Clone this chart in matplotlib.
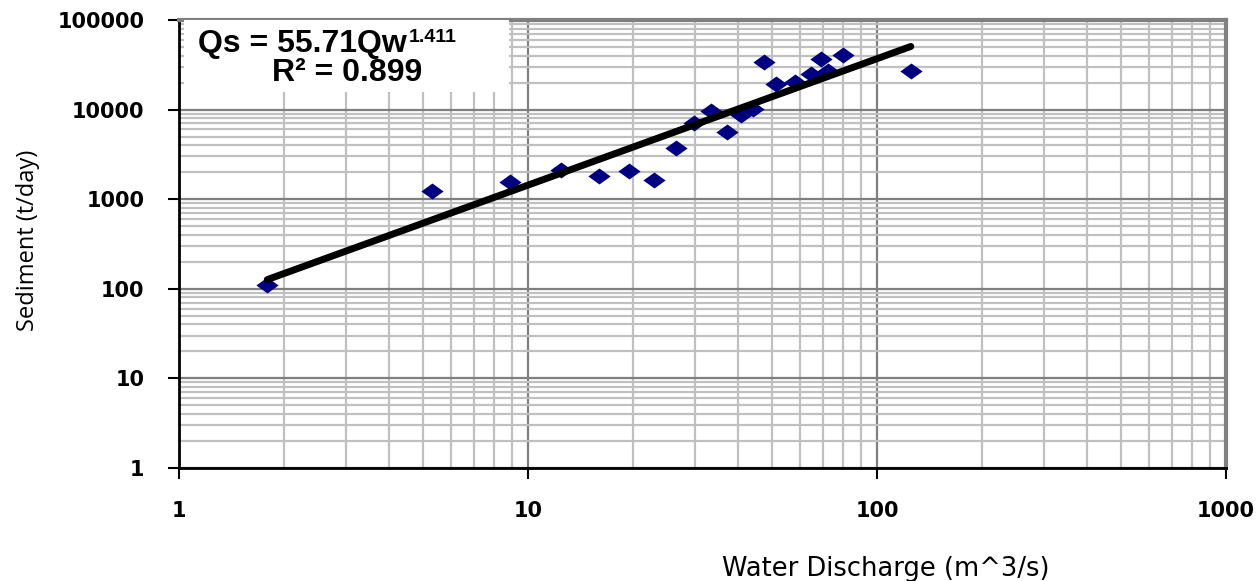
import matplotlib
matplotlib.use('Agg')
import matplotlib.pyplot as plt
import numpy as np
from matplotlib import font_manager as fm
from matplotlib.path import Path
from matplotlib.patches import Rectangle
from matplotlib.ticker import FixedLocator, FixedFormatter, LogLocator, NullFormatter

# water discharge (m^3/s) and sediment load (t/day)
qw = [1.79, 5.3, 8.9, 12.4, 16.0, 19.5, 23.0, 26.5, 29.9, 33.4, 37.2, 40.8,
      44.1, 47.5, 51.4, 58.2, 64.7, 69.2, 72.4, 79.9, 125]
qs = [110, 1250, 1540, 2100, 1800, 2050, 1620, 3700, 7000, 9600, 5600, 8650,
      10100, 33900, 19200, 20200, 24900, 36600, 26900, 40600, 26900]

# power-law trend line given on the chart
coef_a = 55.71
coef_b = 1.411
r2 = 0.899

x_ticks = [1, 10, 100, 1000]
y_ticks = [1, 10, 100, 1000, 10000, 100000]

# make sure the regular-width Arial-like bold is used (not the Narrow one)
bold_files = [f.fname for f in fm.fontManager.ttflist
              if f.fname.endswith('LiberationSans-Bold.ttf')]
def eq_font(size):
    if bold_files:
        return fm.FontProperties(fname=bold_files[0], size=size)
    return fm.FontProperties(family='DejaVu Sans', weight='bold', size=size)

fig = plt.figure(figsize=(12.6, 5.81), dpi=100)
ax = fig.add_axes([0.1421, 0.1945, 0.8309, 0.7711])
ax.set_xscale('log')
ax.set_yscale('log')
ax.set_xlim(1, 1000)
ax.set_ylim(1, 100000)

# grid
ax.xaxis.set_minor_locator(LogLocator(base=10, subs=np.arange(2, 10)))
ax.yaxis.set_minor_locator(LogLocator(base=10, subs=np.arange(2, 10)))
ax.xaxis.set_minor_formatter(NullFormatter())
ax.yaxis.set_minor_formatter(NullFormatter())
ax.grid(which='minor', color='#c0c0c0', linewidth=1.6, zorder=0)
ax.grid(which='major', color='#7f7f7f', linewidth=1.6, zorder=0)
ax.set_axisbelow(True)

# diamond markers, a bit wider than tall like Excel
diamond = Path([(-1, 0), (0, 0.72), (1, 0), (0, -0.72), (-1, 0)],
               [Path.MOVETO, Path.LINETO, Path.LINETO, Path.LINETO, Path.CLOSEPOLY])
ax.plot(qw, qs, linestyle='none', marker=diamond, markersize=16,
        color='#000080', markeredgewidth=0, zorder=3)

xt = np.logspace(np.log10(min(qw)), np.log10(max(qw)), 50)
ax.plot(xt, coef_a * xt ** coef_b, color='black', linewidth=5,
        solid_capstyle='round', zorder=4)

# ticks
ax.xaxis.set_major_locator(FixedLocator(x_ticks))
ax.xaxis.set_major_formatter(FixedFormatter([str(v) for v in x_ticks]))
ax.yaxis.set_major_locator(FixedLocator(y_ticks))
ax.yaxis.set_major_formatter(FixedFormatter([str(v) for v in y_ticks]))
ax.tick_params(which='minor', length=0)
ax.tick_params(which='major', direction='out', length=8, width=1.5, color='black',
               labelsize=15)
ax.tick_params(axis='x', pad=16)
ax.tick_params(axis='y', pad=17)
for lbl in ax.get_xticklabels() + ax.get_yticklabels():
    lbl.set_fontfamily('DejaVu Sans')
    lbl.set_fontweight('bold')

# frame
ax.spines['left'].set_color('black')
ax.spines['left'].set_linewidth(2)
ax.spines['bottom'].set_color('black')
ax.spines['bottom'].set_linewidth(2)
ax.spines['top'].set_color('#808080')
ax.spines['top'].set_linewidth(3)
ax.spines['right'].set_color('#808080')
ax.spines['right'].set_linewidth(3)

# equation box
ax.add_patch(Rectangle((0.005, 0.84), 0.31, 0.16, transform=ax.transAxes,
                       facecolor='white', edgecolor='none', zorder=5))
eq = ax.text(0.018, 0.9475, 'Qs = %.2fQw' % coef_a, transform=ax.transAxes,
             ha='left', va='center', fontproperties=eq_font(23), zorder=6)
ax.annotate('%.3f' % coef_b, xy=(1, 0), xycoords=eq, xytext=(1.5, 12),
            textcoords='offset points', ha='left', va='baseline',
            fontproperties=eq_font(14), zorder=6)
ax.text(0.161, 0.882, 'R² = %.3f' % r2, transform=ax.transAxes, ha='center',
        va='center', fontproperties=eq_font(23), zorder=6)

fig.text(0.022, 0.587, 'Sediment (t/day)', rotation=90, ha='center', va='center',
         fontsize=17, family='Open Sans')
fig.text(0.703, 0.021, 'Water Discharge (m^3/s)', ha='center', va='center',
         fontsize=18.5, family='DejaVu Sans')

fig.savefig('out.png', dpi=100)
